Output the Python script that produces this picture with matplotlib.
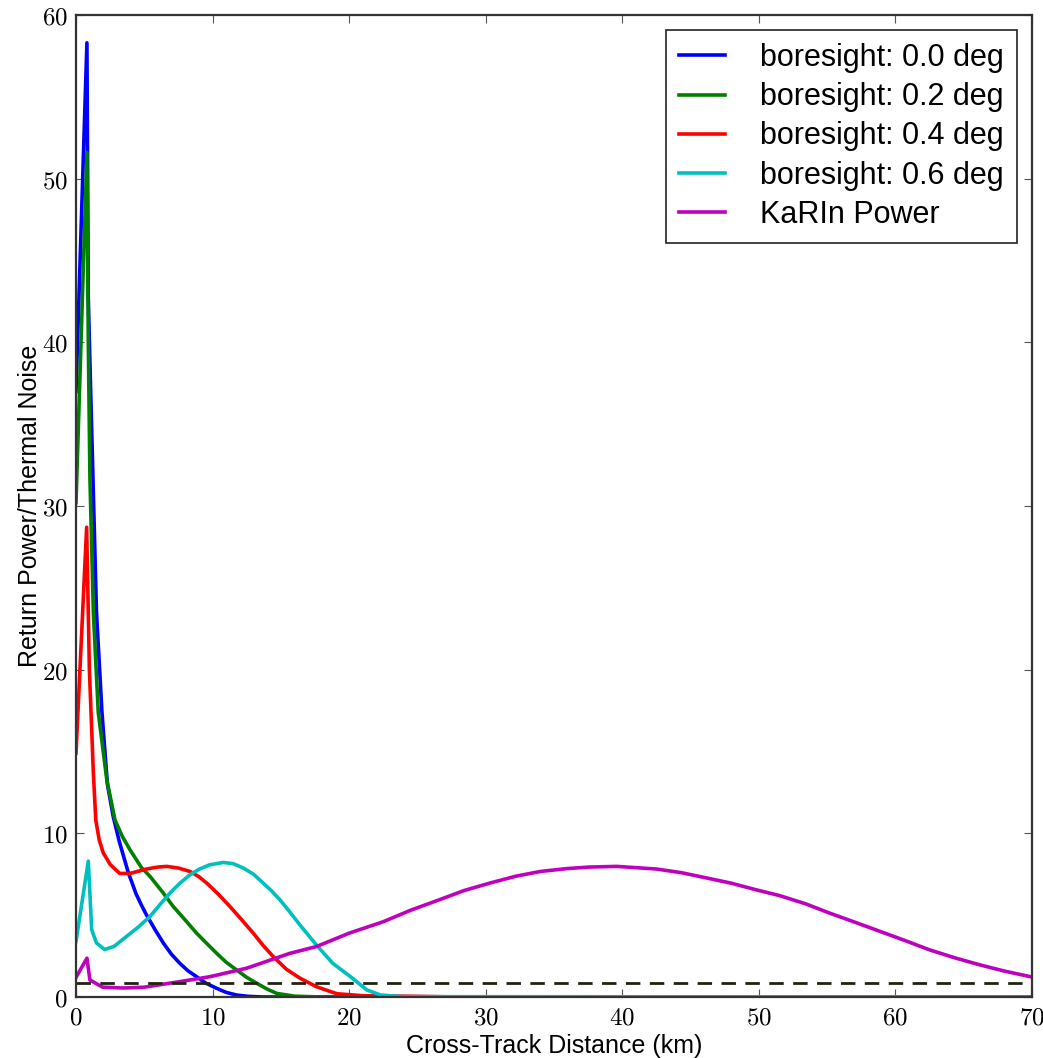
"""
Return power over thermal noise vs cross-track distance,
for several boresight angles plus the KaRIn power curve.
"""

import matplotlib
matplotlib.use("Agg")
import matplotlib.pyplot as plt
from matplotlib.ticker import FuncFormatter


# ---------------------------------------------------------------------
# Data
# ---------------------------------------------------------------------

X_BORE_00 = [0, 0.8, 0.9, 1.05, 1.5, 1.9, 2.3, 2.73, 3.17, 3.83, 4.4, 4.8, 5.17,
             5.8, 6.4, 7.0, 7.6, 8.2, 8.83, 9.5, 10.3, 11.0, 11.76, 12.6, 13.7, 70]
Y_BORE_00 = [37.0, 58.3, 42.7, 37.8, 23.5, 17.4, 13.0, 11.0, 9.5, 7.6, 6.3, 5.6, 5.0,
             4.1, 3.29, 2.6, 2.06, 1.6, 1.24, 0.85, 0.53, 0.28, 0.12, 0.04, 0.0, 0.0]

X_BORE_02 = [0, 0.8, 0.9, 1.02, 1.27, 1.63, 2.25, 2.86, 3.4, 3.95, 4.8, 5.42,
             6.3, 7.12, 8.0, 8.83, 9.6, 10.3, 11.0, 11.76, 12.5, 13.23, 14.0,
             14.7, 16.0, 18.0, 70]
Y_BORE_02 = [30.2, 51.6, 40.0, 31.7, 23.5, 17.4, 13.3, 10.8, 9.8, 9.0, 7.9, 7.37,
             6.45, 5.53, 4.7, 3.9, 3.25, 2.67, 2.12, 1.65, 1.2, 0.84, 0.48,
             0.22, 0.05, 0.0, 0.0]

X_BORE_04 = [0, 0.78, 0.98, 1.27, 1.45, 1.7, 2.0, 2.5, 3.2, 3.95, 5.17, 6.0, 6.64,
             7.5, 8.35, 9.0, 9.57, 10.4, 11.27, 12.1, 12.98, 13.7, 14.44, 15.4,
             16.4, 17.6, 19.1, 21, 25, 28, 70]
Y_BORE_04 = [14.9, 28.7, 20.0, 13.7, 10.8, 9.6, 8.8, 8.1, 7.55, 7.55, 7.82, 7.94, 7.98,
             7.88, 7.67, 7.35, 6.96, 6.3, 5.53, 4.75, 3.9, 3.15, 2.47, 1.7,
             1.15, 0.63, 0.2, 0.08, 0.04, 0.0, 0.0]

X_BORE_06 = [0, 0.9, 1.15, 1.5, 2.1, 2.8, 3.7, 4.6, 5.42, 6.1, 6.88, 7.6, 8.35, 9.0,
             9.8, 10.78, 11.5, 12.25, 13.0, 13.7, 14.3, 14.93, 15.7, 16.4, 17.6,
             18.8, 20.1, 21.3, 22.3, 24, 70]
Y_BORE_06 = [3.4, 8.3, 4.1, 3.3, 2.9, 3.1, 3.7, 4.3, 4.92, 5.6, 6.35, 6.95, 7.47, 7.8,
             8.08, 8.22, 8.15, 7.88, 7.5, 6.96, 6.5, 5.94, 5.15, 4.4, 3.18,
             2.06, 1.24, 0.43, 0.12, 0.02, 0.0]

X_KARIN = [0, 0.8, 1.02, 1.95, 3.5, 5.0, 7.6, 9.8, 12.5, 15.67, 17.6, 20,
           22.5, 24.5, 26.6, 28.4, 30.3, 32.2, 34.0, 36.0, 37.6, 39.6, 42.5,
           44.3, 46.2, 48.0, 49.8, 51.5, 53.4, 55.2, 57.0, 58.9, 60.7, 62.5,
           64.4, 66.2, 68.0, 70]
Y_KARIN = [1.2, 2.37, 1.04, 0.6, 0.55, 0.6, 0.94, 1.24, 1.76, 2.67, 3.08, 3.9,
           4.6, 5.3, 5.94, 6.5, 6.96, 7.38, 7.67, 7.85, 7.94, 7.98, 7.82,
           7.6, 7.27, 6.95, 6.55, 6.2, 5.7, 5.12, 4.58, 4.0, 3.45, 2.88,
           2.38, 1.96, 1.58, 1.22]

NOISE_LEVEL = 0.85

SERIES = [
    (X_BORE_00, Y_BORE_00, "b", "boresight: 0.0 deg"),
    (X_BORE_02, Y_BORE_02, "g", "boresight: 0.2 deg"),
    (X_BORE_04, Y_BORE_04, "r", "boresight: 0.4 deg"),
    (X_BORE_06, Y_BORE_06, "c", "boresight: 0.6 deg"),
    (X_KARIN, Y_KARIN, "m", "KaRIn Power"),
]


# ---------------------------------------------------------------------
# Plot
# ---------------------------------------------------------------------

plt.rcParams["font.family"] = ["Liberation Sans", "DejaVu Sans"]
plt.rcParams["mathtext.fontset"] = "cm"

fig = plt.figure(figsize=(10.43, 10.58), dpi=100)
ax = fig.add_axes([76 / 1043, 61 / 1058, 956 / 1043, 982 / 1058])

for xs, ys, color, label in SERIES:
    ax.plot(xs, ys, color=color, lw=2.6, label=label,
            solid_joinstyle="round")

ax.axhline(NOISE_LEVEL, color="#222211", lw=2.0, linestyle=(0, (5.2, 3.4)))

ax.set_xlim(0, 70)
ax.set_ylim(0, 60)
ax.set_xticks(range(0, 71, 10))
ax.set_yticks(range(0, 61, 10))
fmt = FuncFormatter(lambda v, p: r"$%d$" % v)
ax.xaxis.set_major_formatter(fmt)
ax.yaxis.set_major_formatter(fmt)
ax.tick_params(direction="in", length=6, width=0.8, color="#555555",
               top=True, right=True, labelsize=18, pad=6)

for sp in ax.spines.values():
    sp.set_linewidth(1.6)
    sp.set_color("#333333")

ax.set_xlabel("Cross-Track Distance (km)", fontsize=18, labelpad=3)
ax.set_ylabel("Return Power/Thermal Noise", fontsize=18, labelpad=0)

leg = ax.legend(loc="upper right", fontsize=22, handlelength=1.5,
                handletextpad=1.15, labelspacing=0.3, borderpad=0.42,
                borderaxespad=0.5, fancybox=False, framealpha=1.0)
leg.get_frame().set_edgecolor("#222222")
leg.get_frame().set_linewidth(1.2)

fig.savefig("out.png", dpi=100)
